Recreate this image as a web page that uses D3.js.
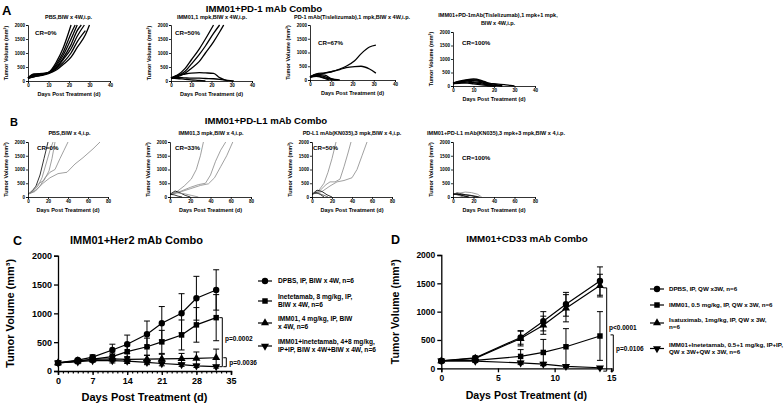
<!DOCTYPE html>
<html><head><meta charset="utf-8">
<script src="https://cdn.jsdelivr.net/npm/d3@7"></script>
<style>
html,body{margin:0;padding:0;background:#fff;}
svg{display:block;font-family:"Liberation Sans",Arial,Helvetica,sans-serif;font-weight:bold;}
</style></head><body>
<svg id="chart" width="784" height="404"></svg>
<script>
// ---------------- DATA ----------------
const panelLetters = ["A","B","C","D"];
const rowATitle = "IMM01+PD-1 mAb Combo";
const rowBTitle = "IMM01+PD-L1 mAb Combo";
const smallXTitle = "Days Post Treatment (d)";
const smallYTitle = "Tumor Volume (mm³)";
const volTicks = [0,500,1000,1500,2000];
const rowAXTicks = [0,10,20,30,40];
const rowBXTicks = [0,20,40,60,80];

const rowASubtitles = [["PBS,BIW x 4W,i.p."],["IMM01,1 mpk,BIW x 4W,i.p."],["PD-1 mAb(Tislelizumab),1 mpk,BIW x 4W,i.p."],["IMM01+PD-1mAb(Tislelizumab),1 mpk+1 mpk,","BIW x 4W,i.p."]];
const rowACR = ["CR=0%","CR=50%","CR=67%","CR=100%"];
const rowBSubtitles = [["PBS,BIW x 4,i.p."],["IMM01,3 mpk,BIW x 4,i.p."],["PD-L1 mAb(KN035),3 mpk,BIW x 4,i.p."],["IMM01+PD-L1 mAb(KN035),3 mpk+3 mpk,BIW x 4,i.p."]];
const rowBCR = ["CR=0%","CR=33%","CR=50%","CR=100%"];

// individual tumour curves [day, volume]
const curvesA1 = [
 [[0,100],[3,220],[7,260],[10,310],[14,700],[17,1150],[21,2000]],
 [[0,100],[3,200],[7,240],[10,300],[14,620],[17,1000],[21,1700],[23,2000]],
 [[0,90],[3,180],[7,230],[10,290],[14,560],[17,900],[21,1500],[24,2000]],
 [[0,110],[3,240],[7,250],[10,280],[14,500],[17,800],[21,1300],[24,1800],[26,2000]],
 [[0,100],[3,160],[7,220],[10,300],[14,480],[17,750],[21,1150],[24,1600],[27.5,2000]],
 [[0,120],[3,250],[7,270],[10,290],[14,450],[17,650],[21,1000],[24,1400],[28,1800]],
 [[0,100],[3,150],[7,200],[10,260],[14,400],[17,580],[21,850],[24,1200],[28,1650],[30,2000]]
];
const curvesA2 = [
 [[0,100],[3,200],[7,450],[10,750],[14,1150],[17,1500],[21,2000]],
 [[0,100],[3,180],[7,350],[10,600],[14,950],[17,1250],[21,1700],[24,2000]],
 [[0,100],[3,150],[7,280],[10,450],[14,700],[17,1000],[21,1400],[24,1750],[26,2000]],
 [[0,100],[3,200],[7,250],[10,280],[14,300],[17,290],[21,270],[24,120],[28,0]],
 [[0,100],[3,130],[7,110],[10,100],[14,100],[17,90],[21,80],[24,60],[28,20],[31,0]],
 [[0,100],[3,90],[7,60],[10,40],[14,20],[17,0]]
];
const curvesA3 = [
 [[0,120],[3,180],[7,250],[10,300],[14,400],[17,500],[21,700],[24,950],[28,1200],[31,1270]],
 [[0,110],[3,220],[7,260],[10,300],[14,380],[17,450],[21,490],[24,500],[28,400],[31,250]],
 [[0,100],[3,200],[7,180],[10,50],[14,0]],
 [[0,120],[3,150],[7,80],[10,20],[12,0]],
 [[0,90],[3,170],[7,120],[10,30],[13,0]],
 [[0,100],[3,130],[7,60],[9,0]]
];
const curvesA4 = [
 [[0,100],[3,180],[7,240],[10,260],[14,200],[17,120],[21,50],[24,0]],
 [[0,120],[3,150],[7,220],[10,230],[14,180],[17,100],[21,80],[25,50],[28,20],[30,0]],
 [[0,80],[3,130],[7,200],[10,200],[14,150],[17,80],[21,20],[24,0]],
 [[0,100],[3,160],[7,180],[10,150],[14,120],[17,60],[20,0]],
 [[0,110],[3,120],[7,140],[10,120],[14,80],[17,40],[21,0]],
 [[0,90],[3,100],[7,110],[10,80],[14,40],[17,10],[20,0]]
];
const curvesB1 = [
 [[0,100],[4,200],[8,400],[12,800],[16,1400],[20,2000]],
 [[0,100],[5,200],[10,400],[14,700],[18,1200],[22,1700],[25,2000]],
 [[0,100],[6,300],[11,500],[16,600],[21,950],[24,1400],[27,2000]],
 [[0,100],[7,200],[12,400],[17,700],[22,900],[27,1000],[32,1400],[36,1700],[40,2000]],
 [[0,100],[8,250],[15,500],[22,700],[30,850],[39,900],[47,1200],[55,1430],[65,1750],[72,2000]]
];
const curvesB2 = [
 [[0,100],[7,200],[14,400],[21,650],[26,1000],[30,1500],[33,2000]],
 [[0,100],[10,200],[20,350],[28,450],[35,500],[40,800],[45,1300],[50,1700],[55,2000]],
 [[0,100],[10,180],[20,300],[30,420],[38,480],[44,700],[50,1100],[56,1500],[62,2000]],
 [[0,100],[5,220],[10,150],[15,60],[20,0]],
 [[0,100],[7,150],[14,120],[21,60],[28,0]],
 [[0,100],[4,80],[8,30],[12,0]]
];
const curvesB3 = [
 [[0,100],[7,250],[12,500],[16,900],[20,1400],[24,2000]],
 [[0,100],[7,200],[14,450],[18,550],[23,550],[28,650],[32,1100],[36,1600],[39,2000]],
 [[0,100],[10,200],[18,400],[25,550],[32,600],[40,700],[45,1000],[50,1500],[55,2000]],
 [[0,100],[5,250],[10,200],[15,80],[20,0]],
 [[0,100],[4,160],[8,100],[12,0]],
 [[0,120],[6,140],[12,60],[16,0]]
];
const curvesB4 = [
 [[0,100],[4,150],[8,120],[12,80],[18,40],[24,0]],
 [[0,120],[5,100],[10,50],[15,0]],
 [[0,100],[6,140],[12,180],[18,160],[24,100],[28,0]],
 [[0,80],[4,120],[8,60],[12,20],[16,0]],
 [[0,110],[3,90],[7,40],[10,0]],
 [[0,100],[8,90],[16,70],[22,30],[26,0]]
];
const colorsB1 = ["#000","#888","#888","#888","#888"];
const colorsB2 = ["#888","#888","#888","#000","#888","#000"];
const colorsB3 = ["#888","#888","#888","#000","#000","#555"];
const colorsB4 = ["#000","#000","#888","#000","#555","#000"];

// Panel C
const cTitle = "IMM01+Her2 mAb Combo";
const cXTicks = [0,7,14,21,28,35];
const cDays = [0,4,7,11,14,18,21,25,28,32];
const cDPBS = [140,190,240,365,463,637,828,1001,1262,1406];
const cDPBSsd = [20,25,40,100,160,230,290,340,380,350];
const cInet = [140,165,205,250,335,420,505,625,800,925];
const cInetSd = [20,25,35,60,100,150,200,260,300,400];
const cIMM = [140,175,200,210,200,205,210,215,220,230];
const cIMMsd = [15,20,30,40,50,70,80,90,110,150];
const cCombo = [140,160,180,180,170,150,130,110,90,75];
const cComboSd = [15,20,30,40,40,40,40,30,30,25];
const cLegend = [["DPBS, IP, BIW x 4W, n=6"],["Inetetamab, 8 mg/kg, IP,","BIW x 4W, n=6"],["IMM01, 4 mg/kg, IP, BIW","x 4W, n=6"],["IMM01+inetetamab, 4+8 mg/kg,"," IP+IP, BIW x 4W+BIW x 4W, n=6"]];
const cPvals = ["p=0.0002","p=0.0036"];

// Panel D
const dTitle = "IMM01+CD33 mAb Combo";
const dXTicks = [0,5,10,15];
const dDays = [0,3,7,9,11,14];
const dDPBS = [130,185,545,830,1130,1540];
const dDPBSsd = [15,30,120,170,210,250];
const dIMM = [130,140,210,280,380,570];
const dIMMsd = [15,20,120,230,320,430];
const dIsa = [130,175,525,760,1060,1460];
const dIsaSd = [15,25,130,160,240,200];
const dCombo = [130,125,95,75,35,10];
const dComboSd = [15,20,30,30,20,10];
const dLegend = [["DPBS, IP, QW x3W, n=6"],["IMM01, 0.5 mg/kg, IP, QW x 3W, n=6"],["Isatuximab, 1mg/kg, IP, QW x 3W,","n=6"],["IMM01+Inetetamab, 0.5+1 mg/kg, IP+IP,","QW x 3W+QW x 3W, n=6"]];
const dPvals = ["p<0.0001","p=0.0106"];
const bigXTitle = "Days Post Treatment (d)";
const bigYTitle = "Tumor Volume (mm³)";

// ---------------- DRAWING ----------------
const FONT = "'Liberation Sans', Arial, Helvetica, sans-serif";
const svg = d3.select("#chart");

function styleAxis(sel, fs, sw){
  sel.attr("font-family", FONT).attr("font-size", fs);
  sel.selectAll("text").attr("font-size", fs).attr("font-weight","bold").attr("fill","#000");
  sel.selectAll("path.domain").attr("stroke","#000").attr("stroke-width",sw);
  sel.selectAll("line").attr("stroke","#000").attr("stroke-width",sw);
}
function txt(g, x, y, s, fs, anchor){
  return g.append("text").attr("x",x).attr("y",y).attr("font-size",fs)
    .attr("text-anchor",anchor||"start").attr("fill","#000").text(s);
}

function smallPlot(cfg){
  const g = svg.append("g");
  const x = d3.scaleLinear().domain([0,cfg.xMax]).range([cfg.x0,cfg.x1]);
  const y = d3.scaleLinear().domain([0,2000]).range([cfg.yBot,cfg.yTop]);
  const line = d3.line().x(d=>x(d[0])).y(d=>y(d[1])).curve(cfg.smooth?d3.curveMonotoneX:d3.curveLinear);
  cfg.curves.forEach((c,i)=>{
    g.append("path").attr("d",line(c)).attr("fill","none")
      .attr("stroke",cfg.colors?cfg.colors[i]:"#000").attr("stroke-width",cfg.sw)
      .attr("stroke-linejoin","round");
  });
  const xa = g.append("g").attr("transform",`translate(0,${cfg.yBot})`)
    .call(d3.axisBottom(x).tickValues(cfg.xTicks).tickSize(2).tickPadding(1).tickFormat(d3.format("d")));
  styleAxis(xa,4.6,0.8);
  const ya = g.append("g").attr("transform",`translate(${cfg.x0},0)`)
    .call(d3.axisLeft(y).tickValues(volTicks).tickSize(2).tickPadding(1).tickFormat(d3.format("d")));
  styleAxis(ya,4.6,0.8);
  cfg.title.forEach((t,i)=>txt(g,cfg.titleX,cfg.titleY+i*7.5,t,5.5,"middle"));
  txt(g,cfg.crX,cfg.crY,cfg.cr,6.2);
  txt(g,(cfg.x0+cfg.x1)/2,cfg.yBot+15,smallXTitle,5.5,"middle");
  g.append("text").attr("transform",`translate(${cfg.x0-20},${(cfg.yTop+cfg.yBot)/2}) rotate(-90)`)
    .attr("text-anchor","middle").attr("font-size",5.5).text(smallYTitle);
}

const aCurves=[curvesA1,curvesA2,curvesA3,curvesA4];
const aGeom=[{x0:28,x1:110,yTop:25,yBot:81,tX:68.5,tY:19,crX:35,crY:35},
             {x0:171,x1:252,yTop:25,yBot:81,tX:212,tY:19,crX:175,crY:35},
             {x0:310,x1:395,yTop:25,yBot:80,tX:352,tY:19,crX:318,crY:45},
             {x0:453,x1:535,yTop:32,yBot:86,tX:498,tY:17,crX:462,crY:45}];
aGeom.forEach((gm,i)=>smallPlot({x0:gm.x0,x1:gm.x1,yTop:gm.yTop,yBot:gm.yBot,xMax:40,xTicks:rowAXTicks,
  curves:aCurves[i],sw:1.3,smooth:true,title:rowASubtitles[i],titleX:gm.tX,titleY:gm.tY,cr:rowACR[i],crX:gm.crX,crY:gm.crY}));

const bCurves=[curvesB1,curvesB2,curvesB3,curvesB4];
const bColors=[colorsB1,colorsB2,colorsB3,colorsB4];
const bGeom=[{x0:28,x1:108,tX:69.5,crX:37,crY:150},
             {x0:170,x1:251,tX:211,crX:175,crY:150},
             {x0:312,x1:392,tX:352,crX:313,crY:150},
             {x0:453,x1:535,tX:496,crX:462,crY:160}];
bGeom.forEach((gm,i)=>smallPlot({x0:gm.x0,x1:gm.x1,yTop:142,yBot:197,xMax:80,xTicks:rowBXTicks,
  curves:bCurves[i],colors:bColors[i],sw:0.8,smooth:false,title:rowBSubtitles[i],titleX:gm.tX,titleY:134.5,cr:rowBCR[i],crX:gm.crX,crY:gm.crY}));

// letters & row titles
txt(svg,2,15,panelLetters[0],13);
txt(svg,10,126,panelLetters[1],11);
txt(svg,13,245,panelLetters[2],12.5);
txt(svg,391,244,panelLetters[3],12.5);
txt(svg,264,11.5,rowATitle,9.6,"middle");
txt(svg,266,123.5,rowBTitle,9.6,"middle");

// ---- big plots ----
const symTypes={circle:d3.symbolCircle,square:d3.symbolSquare,up:d3.symbolTriangle,down:d3.symbolTriangle};
const symSize={circle:32,square:30,up:28,down:28};
function marker(g,type,cx,cy){
  g.append("path").attr("d",d3.symbol().type(symTypes[type]).size(symSize[type])())
   .attr("transform",`translate(${cx},${cy})${type==="down"?" rotate(180)":""}`).attr("fill","#000");
}
function bigPlot(cfg){
  const g = svg.append("g");
  const x = d3.scaleLinear().domain([0,cfg.xMax]).range([cfg.x0,cfg.x1]);
  const y = d3.scaleLinear().domain([0,2000]).range([cfg.yBot,cfg.yTop]);
  if(cfg.minor){
    const mi = g.append("g").attr("transform",`translate(0,${cfg.yBot})`)
      .call(d3.axisBottom(x).tickValues(d3.range(0,cfg.xMax+1)).tickSize(2.5).tickFormat(""));
    styleAxis(mi,cfg.fs,1.2);
  }
  const xa = g.append("g").attr("transform",`translate(0,${cfg.yBot})`)
    .call(d3.axisBottom(x).tickValues(cfg.xTicks).tickSize(4).tickPadding(3).tickFormat(d3.format("d")));
  styleAxis(xa,cfg.fs,1.3);
  const ya = g.append("g").attr("transform",`translate(${cfg.x0},0)`)
    .call(d3.axisLeft(y).tickValues(volTicks).tickSize(4).tickPadding(2).tickFormat(d3.format("d")));
  styleAxis(ya,cfg.fs,1.3);
  cfg.series.forEach(s=>{
    s.mean.forEach((m,i)=>{
      const cx=x(cfg.days[i]), y1=y(m+s.sd[i]), y2=y(Math.max(0,m-s.sd[i]));
      g.append("line").attr("x1",cx).attr("x2",cx).attr("y1",y1).attr("y2",y2).attr("stroke","#000").attr("stroke-width",1);
      [y1,y2].forEach(yy=>g.append("line").attr("x1",cx-3).attr("x2",cx+3).attr("y1",yy).attr("y2",yy).attr("stroke","#000").attr("stroke-width",1));
    });
    g.append("path").attr("d",d3.line().x((d,i)=>x(cfg.days[i])).y(d=>y(d))(s.mean))
      .attr("fill","none").attr("stroke","#000").attr("stroke-width",1.2);
    s.mean.forEach((m,i)=>marker(g,s.sym,x(cfg.days[i]),y(m)));
  });
  // brackets
  cfg.brackets.forEach(b=>{
    const yt=y(b.top), yb=y(b.bot);
    g.append("path").attr("d",`M${b.x-b.w},${yt}H${b.x}V${yb}H${b.x-b.w}`).attr("fill","none").attr("stroke","#000").attr("stroke-width",1);
    txt(g,b.lx,(b.ly!==undefined?b.ly:(yt+yb)/2)+2.3,b.label,6.5);
  });
  // legend
  cfg.legend.forEach((it,i)=>{
    const ly=cfg.legendY[i];
    g.append("line").attr("x1",cfg.legX-7).attr("x2",cfg.legX+7).attr("y1",ly).attr("y2",ly).attr("stroke","#000").attr("stroke-width",1.2);
    marker(g,cfg.series[i].sym,cfg.legX,ly);
    const n=it.length;
    it.forEach((t,j)=>txt(g,cfg.legTextX,ly+(j-(n-1)/2)*cfg.legLH+2.2,t,cfg.legFs));
  });
  txt(g,cfg.titleX,cfg.titleY,cfg.title,cfg.titleFs,"middle");
  txt(g,(cfg.x0+cfg.x1)/2+cfg.xtOff,cfg.xTitleY,bigXTitle,cfg.axFs,"middle");
  g.append("text").attr("transform",`translate(${cfg.yTitleX},${(cfg.yTop+cfg.yBot)/2}) rotate(-90)`)
    .attr("text-anchor","middle").attr("font-size",cfg.axFs).text(bigYTitle);
}

bigPlot({x0:58,x1:231,yTop:255.7,yBot:371,xMax:35,xTicks:cXTicks,minor:true,fs:9,days:cDays,
  series:[{mean:cDPBS,sd:cDPBSsd,sym:"circle"},{mean:cInet,sd:cInetSd,sym:"square"},{mean:cIMM,sd:cIMMsd,sym:"up"},{mean:cCombo,sd:cComboSd,sym:"down"}],
  brackets:[{x:222.3,w:3,top:cInet[9],bot:cCombo[9],label:cPvals[0],lx:225,ly:339},
            {x:226.3,w:3,top:cIMM[9],bot:cCombo[9],label:cPvals[1],lx:229.3}],
  legend:cLegend,legendY:[281,301,323,346],legX:265,legTextX:278,legLH:7.8,legFs:6.6,
  title:cTitle,titleX:136.5,titleY:243.5,titleFs:11,xTitleY:401,xtOff:0,axFs:11,yTitleX:14});

bigPlot({x0:441.3,x1:611.3,yTop:255,yBot:368.3,xMax:15,xTicks:dXTicks,minor:false,fs:8.5,days:dDays,
  series:[{mean:dDPBS,sd:dDPBSsd,sym:"circle"},{mean:dIMM,sd:dIMMsd,sym:"square"},{mean:dIsa,sd:dIsaSd,sym:"up"},{mean:dCombo,sd:dComboSd,sym:"down"}],
  brackets:[{x:606.7,w:3.4,top:dIsa[5]-40,bot:dCombo[5]-60,label:dPvals[0],lx:609,ly:327.7},
            {x:613.3,w:2.8,top:dIMM[5]+20,bot:dCombo[5]-60,label:dPvals[1],lx:616,ly:349}],
  legend:dLegend,legendY:[289,305,323,348.5],legX:657,legTextX:669,legLH:6.8,legFs:6.2,
  title:dTitle,titleX:527,titleY:242,titleFs:9.8,xTitleY:399,xtOff:0,axFs:10.6,yTitleX:399});
</script>
</body></html>
